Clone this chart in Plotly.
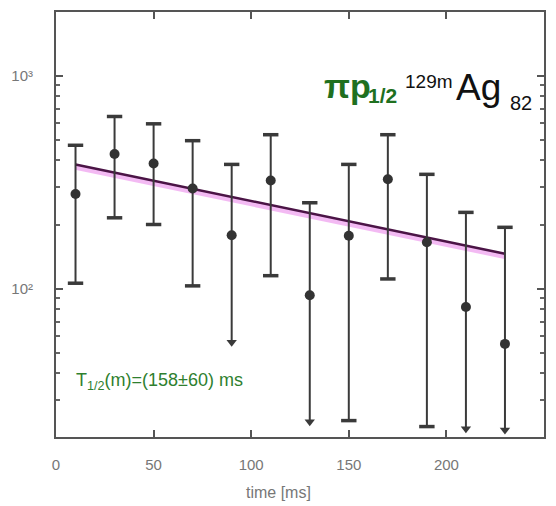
import numpy as np
import plotly.graph_objects as go

# ---- data ----
time_ms = [10, 30, 50, 70, 90, 110, 130, 150, 170, 190, 210, 230]
counts = [278, 429, 387, 295, 178, 322, 93, 177, 326, 165, 82, 55]
upper = [471, 643, 594, 495, 383, 528, 253, 383, 528, 344, 228, 194]
lower = [106, 215, 200, 103, 56, 115, 23.7, 24, 111, 22.5, 22, 21.7]
lower_is_limit = [False, False, False, False, True, False, True, False, False, False, True, True]

fit_A = 400.0        # counts at t = 0
fit_T_half = 158.0   # ms
fit_t = [10, 230]

x_ticks = [0, 50, 100, 150, 200, 250]
y_ticks = [100, 1000]
y_ticktext = ["10²", "10³"]

# ---- figure ----
fig = go.Figure()

GRAY = "#3a3a3a"

# fit curve
tt = np.linspace(fit_t[0], fit_t[1], 50)
yy = fit_A * 2 ** (-tt / fit_T_half)
fig.add_trace(go.Scatter(x=tt, y=yy * 0.97, mode="lines",
                         line=dict(color="rgba(235,140,235,0.6)", width=5),
                         hoverinfo="skip", showlegend=False))
fig.add_trace(go.Scatter(x=tt, y=yy, mode="lines",
                         line=dict(color="#4b1446", width=2.5),
                         hoverinfo="skip", showlegend=False))

# vertical error bars
ex, ey = [], []
for t, lo, hi in zip(time_ms, lower, upper):
    ex += [t, t, None]
    ey += [lo, hi, None]
fig.add_trace(go.Scatter(x=ex, y=ey, mode="lines",
                         line=dict(color=GRAY, width=2),
                         hoverinfo="skip", showlegend=False))

# caps (upper always, lower when not a limit)
cx = list(time_ms) + [t for t, l in zip(time_ms, lower_is_limit) if not l]
cy = list(upper) + [v for v, l in zip(lower, lower_is_limit) if not l]
fig.add_trace(go.Scatter(x=cx, y=cy, mode="markers",
                         marker=dict(symbol="line-ew-open", size=11, color=GRAY,
                                     line=dict(color=GRAY, width=3.5)),
                         hoverinfo="skip", showlegend=False))

# arrows for lower limits
ax_ = [t for t, l in zip(time_ms, lower_is_limit) if l]
ay_ = [v for v, l in zip(lower, lower_is_limit) if l]
fig.add_trace(go.Scatter(x=ax_, y=ay_, mode="markers",
                         marker=dict(symbol="triangle-down", size=9, color=GRAY),
                         hoverinfo="skip", showlegend=False))

# data points
fig.add_trace(go.Scatter(x=time_ms, y=counts, mode="markers",
                         marker=dict(symbol="circle", size=10, color="#333333"),
                         showlegend=False))

# ---- layout ----
L, R, T, B = 56, 545, 10, 437
W, H = 556, 506


def px(X):
    return (X - L) / (R - L)


def py(Y):
    return (B - Y) / (B - T)


FONT = "Arial, Liberation Sans, sans-serif"
GREEN = "#1f701f"
GREEN2 = "#2f7f2f"

annotations = [
    dict(text="<b>πp</b>", x=px(323), y=py(84), xanchor="left", yanchor="middle",
         font=dict(family=FONT, size=34, color=GREEN)),
    dict(text="<b>1/2</b>", x=px(367), y=py(94), xanchor="left", yanchor="middle",
         font=dict(family=FONT, size=21, color=GREEN)),
    dict(text="129m", x=px(404), y=py(80), xanchor="left", yanchor="middle",
         font=dict(family=FONT, size=19, color="#111111")),
    dict(text="Ag", x=px(455), y=py(86), xanchor="left", yanchor="middle",
         font=dict(family=FONT, size=37, color="#111111")),
    dict(text="82", x=px(509), y=py(101), xanchor="left", yanchor="middle",
         font=dict(family=FONT, size=20, color="#111111")),
    dict(text="T<sub>1/2</sub>(m)=(158±60) ms", x=px(74), y=py(381),
         xanchor="left", yanchor="middle",
         font=dict(family=FONT, size=18, color=GREEN2)),
    dict(text="time [ms]", x=px(279), y=py(493), xanchor="center", yanchor="middle",
         font=dict(family=FONT, size=16, color="#777777")),
]
for a in annotations:
    a.update(xref="paper", yref="paper", showarrow=False)

minor_vals = [v * d for d in (10, 100, 1000) for v in range(2, 10)]

fig.update_layout(
    width=W, height=H,
    margin=dict(l=L, r=W - R, t=T, b=H - B),
    paper_bgcolor="white", plot_bgcolor="white",
    showlegend=False,
    annotations=annotations,
    xaxis=dict(range=[0, 250], tickvals=x_ticks, ticks="inside", ticklen=7,
               tickwidth=1.5, tickcolor="#555555",
               showline=True, linecolor="#555555", linewidth=2, mirror="ticks",
               showgrid=False, zeroline=False,
               tickfont=dict(family=FONT, size=15, color="#777777"),
               ticklabelstandoff=13),
    yaxis=dict(type="log", range=[np.log10(20.1), np.log10(1990)],
               tickvals=y_ticks, ticktext=y_ticktext, ticks="inside", ticklen=7,
               tickwidth=1.5, tickcolor="#555555",
               showline=True, linecolor="#555555", linewidth=2, mirror="ticks",
               showgrid=False, zeroline=False,
               minor=dict(tickvals=minor_vals, ticks="inside", ticklen=4,
                          tickcolor="#666666", showgrid=False),
               tickfont=dict(family=FONT, size=15, color="#777777"),
               ticklabelstandoff=18),
)

fig.write_html("out.html")
